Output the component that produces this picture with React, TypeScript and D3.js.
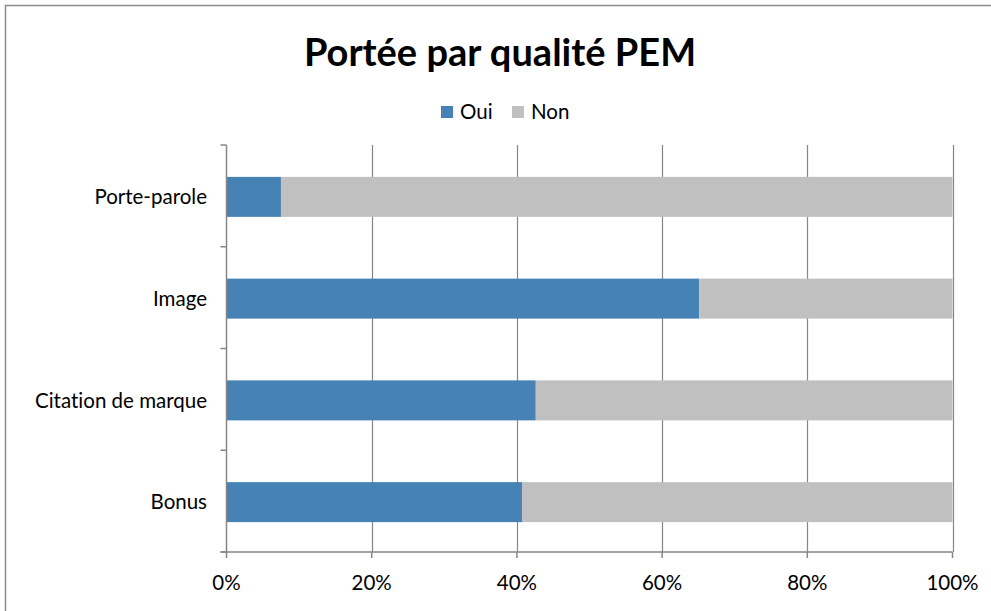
import React, { useEffect, useRef } from "react";
import * as d3 from "d3";

// categories top to bottom
const categories = ["Porte-parole", "Image", "Citation de marque", "Bonus"];
const seriesNames = ["Oui", "Non"];
const ouiShare = [0.075, 0.651, 0.426, 0.407];
const nonShare = [0.925, 0.349, 0.574, 0.593];
const xTickValues = [0, 0.2, 0.4, 0.6, 0.8, 1];
const colors = ["#4682B4", "#C0C0C0"];

const App = () => {
  const ref = useRef<SVGSVGElement>(null);

  useEffect(() => {
    const svg = d3.select(ref.current);
    svg.selectAll("*").remove();

    const width = 991;
    const height = 611;
    const left = 226.5;
    const right = 952.5;
    const top = 145;
    const bottom = 552;
    const font = "Lato, 'Open Sans', sans-serif";
    const axisColor = "#868686";
    const labelSize = 20.5;

    svg.attr("width", width).attr("height", height)
      .style("font-variant-ligatures", "none");

    // outer frame
    svg.append("rect")
      .attr("x", 5.5).attr("y", 5.5)
      .attr("width", 1000).attr("height", 700)
      .attr("fill", "white")
      .attr("stroke", "#8c8c8c")
      .attr("stroke-width", 1.5);

    // title
    svg.append("text")
      .attr("x", 500).attr("y", 66)
      .attr("text-anchor", "middle")
      .attr("font-family", font)
      .attr("font-weight", "bold")
      .attr("font-size", 38)
      .text("Portée par qualité PEM");

    // legend
    const legendX = [441, 512];
    seriesNames.forEach((name, i) => {
      svg.append("rect")
        .attr("x", legendX[i]).attr("y", 106)
        .attr("width", 12).attr("height", 12)
        .attr("fill", colors[i]);
      svg.append("text")
        .attr("x", legendX[i] + 19).attr("y", 119)
        .attr("font-family", font)
        .attr("font-size", labelSize)
        .text(name);
    });

    const x = d3.scaleLinear().domain([0, 1]).range([left, right]);
    const y = d3.scaleBand()
      .domain(categories)
      .range([top, bottom])
      .paddingInner(0.607)
      .paddingOuter(0.3035);

    // gridlines
    svg.append("g")
      .selectAll("line")
      .data(xTickValues.slice(1))
      .join("line")
      .attr("x1", d => Math.round(x(d)) + 0.5)
      .attr("x2", d => Math.round(x(d)) + 0.5)
      .attr("y1", top).attr("y2", bottom)
      .attr("stroke", axisColor)
      .attr("stroke-width", 1.2);

    // stacked bars
    const rows = categories.map((c, i) => ({ c, vals: [ouiShare[i], nonShare[i]] }));
    rows.forEach(r => {
      let acc = 0;
      r.vals.forEach((v, j) => {
        svg.append("rect")
          .attr("x", x(acc))
          .attr("y", y(r.c)! + 1)
          .attr("width", x(acc + v) - x(acc))
          .attr("height", y.bandwidth())
          .attr("fill", colors[j]);
        acc += v;
      });
    });

    // y axis line + ticks at category boundaries
    svg.append("line")
      .attr("x1", left).attr("x2", left)
      .attr("y1", top).attr("y2", bottom)
      .attr("stroke", axisColor).attr("stroke-width", 1.5);
    const bounds = d3.range(categories.length + 1).map(i => top + i * y.step());
    svg.append("g")
      .selectAll("line")
      .data(bounds)
      .join("line")
      .attr("x1", left - 6).attr("x2", left)
      .attr("y1", d => d).attr("y2", d => d)
      .attr("stroke", axisColor).attr("stroke-width", 1.5);

    // y labels
    svg.append("g")
      .selectAll("text")
      .data(categories)
      .join("text")
      .attr("x", 207)
      .attr("y", d => y(d)! + y.bandwidth() / 2 + 1)
      .attr("dy", "0.35em")
      .attr("text-anchor", "end")
      .attr("font-family", font)
      .attr("font-size", labelSize)
      .text(d => d);

    // x axis
    svg.append("line")
      .attr("x1", left - 6).attr("x2", right)
      .attr("y1", bottom).attr("y2", bottom)
      .attr("stroke", axisColor).attr("stroke-width", 1.5);
    svg.append("g")
      .selectAll("line")
      .data(xTickValues)
      .join("line")
      .attr("x1", d => x(d)).attr("x2", d => x(d))
      .attr("y1", bottom).attr("y2", bottom + 6)
      .attr("stroke", axisColor).attr("stroke-width", 1.5);
    svg.append("g")
      .selectAll("text")
      .data(xTickValues)
      .join("text")
      .attr("x", d => x(d))
      .attr("y", 590)
      .attr("text-anchor", "middle")
      .attr("font-family", font)
      .attr("font-size", labelSize)
      .text(d => d3.format(".0%")(d));
  }, []);

  return <svg ref={ref} style={{ position: "absolute", left: 0, top: 0 }} />;
};

export default App;
